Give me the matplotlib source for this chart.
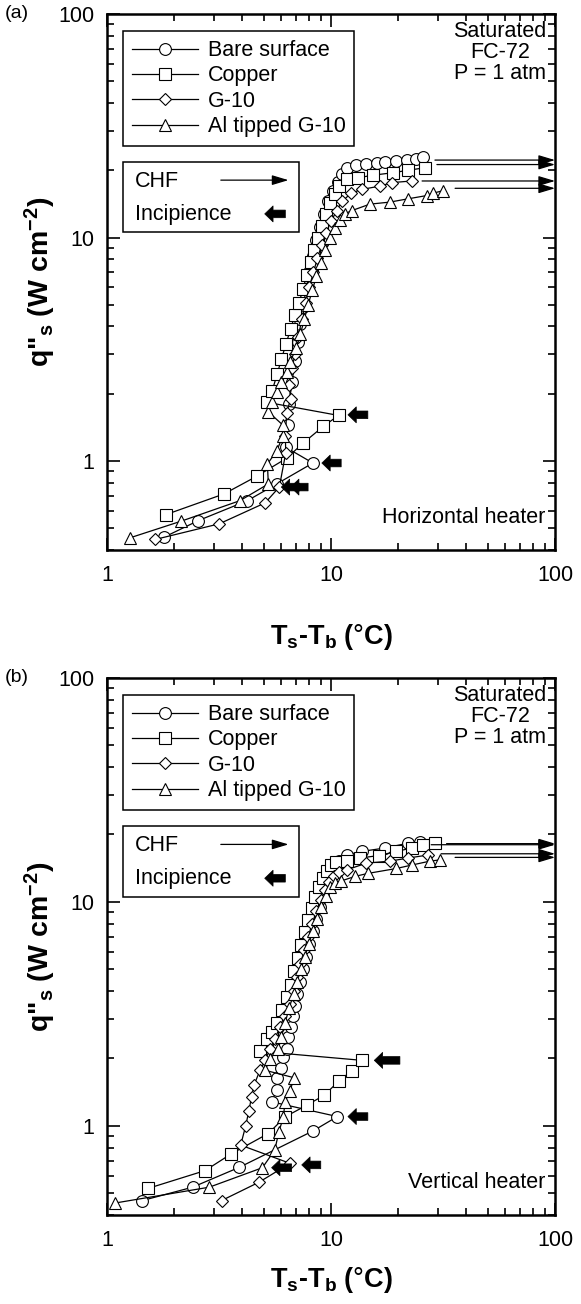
import matplotlib
matplotlib.use('Agg')
import matplotlib.pyplot as plt
from matplotlib.patches import Rectangle
from matplotlib.lines import Line2D
from matplotlib.ticker import FixedLocator, NullFormatter, FixedFormatter

plt.rcParams['font.family'] = ['Liberation Sans', 'DejaVu Sans']
plt.rcParams['mathtext.fontset'] = 'custom'
plt.rcParams['mathtext.rm'] = 'Liberation Sans'
plt.rcParams['mathtext.bf'] = 'Liberation Sans:bold'
plt.rcParams['mathtext.it'] = 'Liberation Sans:italic'

series_labels = ['Bare surface', 'Copper', 'G-10', 'Al tipped G-10']
major_ticks = [1, 10, 100]
major_labels = ['1', '10', '100']

# ---------------- Panel (a): horizontal heater ----------------
a_bare_x = [1.8, 2.56, 4.23, 5.72, 8.3, 6.3, 6.4, 6.5, 6.7, 6.9, 7.1, 7.3, 7.5, 7.75, 8.0, 8.3, 8.6,
            8.9, 9.3, 9.7, 10.2, 10.7, 11.2, 11.75, 12.9, 14.4, 16.0, 17.4, 19.6, 21.8, 23.9, 25.8]
a_bare_y = [0.457, 0.542, 0.665, 0.79, 0.98, 1.15, 1.45, 1.8, 2.26, 2.8, 3.4, 4.1, 4.9, 5.9, 7.0, 8.3, 9.7,
            11.2, 12.8, 14.5, 16.2, 17.8, 19.2, 20.5, 21.2, 21.4, 21.6, 21.7, 21.9, 22.2, 22.5, 22.8]

a_cu_x = [1.83, 3.33, 4.66, 6.34, 7.48, 9.24, 10.8, 5.2, 5.45, 5.75, 6.0, 6.3, 6.6, 6.9, 7.2, 7.5, 7.8,
          8.1, 8.4, 8.75, 9.1, 9.5, 9.9, 10.4, 10.9, 11.75, 13.2, 15.4, 19.0, 22.1, 26.2]
a_cu_y = [0.576, 0.713, 0.855, 1.03, 1.20, 1.43, 1.6, 1.83, 2.05, 2.45, 2.85, 3.35, 3.9, 4.5, 5.1, 5.9, 6.8,
          7.8, 8.8, 10.0, 11.3, 12.7, 14.2, 15.6, 17.0, 18.2, 18.5, 19.0, 19.5, 20.0, 20.5]

a_g10_x = [1.64, 3.17, 5.08, 5.88, 6.28, 6.25, 6.34, 6.6, 6.5, 6.7, 6.9, 7.15, 7.4, 7.7, 8.0, 8.35, 8.7,
           9.1, 9.5, 10.0, 10.6, 11.2, 12.3, 13.7, 16.6, 18.7, 22.9]
a_g10_y = [0.446, 0.524, 0.65, 0.766, 1.09, 1.3, 1.64, 1.9, 2.2, 2.6, 3.0, 3.6, 4.3, 5.1, 6.0, 7.0, 8.1,
           9.3, 10.5, 11.8, 13.2, 14.5, 15.8, 16.4, 17.0, 17.6, 17.9]

a_al_x = [1.27, 2.15, 3.92, 5.25, 5.2, 5.72, 6.09, 6.09, 5.25, 5.44, 5.72, 6.0, 6.34, 6.56, 7.0, 7.3, 7.6,
          7.9, 8.25, 8.6, 9.0, 9.4, 9.9, 10.4, 11.0, 11.6, 12.4, 14.9, 18.3, 22.1, 26.7, 28.6, 31.7]
a_al_y = [0.454, 0.539, 0.665, 0.79, 0.97, 1.11, 1.29, 1.45, 1.66, 1.84, 2.04, 2.26, 2.5, 2.78, 3.2, 3.7, 4.3,
          5.0, 5.8, 6.7, 7.7, 8.8, 9.9, 11.0, 12.0, 12.8, 13.2, 14.1, 14.4, 14.9, 15.4, 15.8, 16.2]

a_chf_start = [29.1, 29.7, 25.5, 35.8]
a_chf_y = [22.2, 21.2, 17.9, 16.6]
a_inc_tip = [9.1, 11.9, 6.6, 6.0]
a_inc_tail = [11.1, 14.6, 7.9, 7.25]
a_inc_y = [0.98, 1.61, 0.765, 0.765]

# ---------------- Panel (b): vertical heater ----------------
b_bare_x = [1.44, 2.41, 3.90, 8.33, 10.67, 5.43, 5.72, 5.72, 5.97, 6.09, 6.34, 6.43, 6.6, 6.75, 6.9, 7.03,
            7.25, 7.5, 7.75, 8.0, 8.3, 8.6, 8.9, 9.25, 9.6, 10.0, 10.4, 10.8, 11.75, 13.7, 17.4, 22.1, 25.0]
b_bare_y = [0.464, 0.532, 0.653, 0.95, 1.10, 1.28, 1.44, 1.64, 1.81, 2.03, 2.2, 2.49, 2.75, 3.1, 3.44, 3.87,
            4.4, 5.0, 5.7, 6.5, 7.4, 8.4, 9.5, 10.7, 11.9, 13.0, 14.1, 15.2, 16.2, 16.8, 17.4, 18.3, 18.6]

b_cu_x = [1.53, 2.74, 3.58, 5.25, 6.23, 7.79, 9.33, 10.8, 12.35, 13.8, 4.82, 5.16, 5.44, 5.72, 6.03, 6.34,
          6.6, 6.85, 7.1, 7.35, 7.65, 7.9, 8.2, 8.5, 8.85, 9.2, 9.6, 10.0, 10.5, 11.75, 13.5, 16.3, 19.6,
          22.9, 25.8, 29.1]
b_cu_y = [0.526, 0.631, 0.749, 0.924, 1.096, 1.236, 1.37, 1.58, 1.76, 1.96, 2.15, 2.44, 2.62, 2.87, 3.29, 3.77,
          4.27, 4.9, 5.6, 6.4, 7.3, 8.3, 9.4, 10.5, 11.7, 12.8, 13.8, 14.6, 15.0, 15.2, 15.7, 16.1, 16.8,
          17.4, 17.9, 18.3]

b_g10_x = [3.25, 4.77, 6.56, 3.95, 4.16, 4.3, 4.42, 4.53, 4.82, 5.08, 5.34, 5.61, 5.9, 6.2, 6.56, 6.8, 7.05,
           7.3, 7.6, 7.9, 8.25, 8.6, 9.0, 9.4, 9.8, 10.3, 10.9, 11.75, 14.4, 18.3, 22.1, 27.2]
b_g10_y = [0.464, 0.56, 0.68, 0.82, 1.0, 1.17, 1.35, 1.52, 1.77, 1.96, 2.2, 2.44, 2.75, 3.1, 3.49, 4.0, 4.6,
           5.3, 6.1, 7.0, 8.0, 9.1, 10.2, 11.3, 12.3, 13.1, 13.6, 13.9, 14.9, 15.2, 15.7, 16.2]

b_al_x = [1.085, 2.86, 4.94, 5.61, 5.85, 6.13, 6.23, 6.56, 6.84, 5.08, 5.34, 5.82, 6.0, 6.23, 6.5, 6.8, 7.05,
          7.35, 7.65, 7.95, 8.3, 8.65, 9.05, 9.45, 9.9, 10.4, 11.1, 12.8, 14.6, 19.6, 22.9, 27.6, 30.6]
b_al_y = [0.452, 0.532, 0.65, 0.78, 0.94, 1.096, 1.28, 1.43, 1.64, 1.77, 1.99, 2.2, 2.49, 2.87, 3.35, 3.87, 4.4,
          5.0, 5.7, 6.5, 7.4, 8.4, 9.5, 10.6, 11.6, 12.2, 12.4, 13.0, 13.4, 14.1, 14.6, 15.2, 15.4]

b_chf_start = [28.0, 32.8, 31.0, 35.8]
b_chf_y = [18.0, 18.2, 16.4, 15.8]
b_inc_tip = [11.9, 15.6, 7.4, 5.43]
b_inc_tail = [14.6, 20.3, 9.0, 6.67]
b_inc_y = [1.10, 1.96, 0.669, 0.65]

markers = ['o', 's', 'D', '^']
msizes = [8.5, 8.5, 6.2, 8.5]

fig = plt.figure(figsize=(5.81, 13.04), dpi=100)
ax_a = fig.add_axes([0.1842, 0.5782, 0.7711, 0.4111])
ax_b = fig.add_axes([0.1842, 0.0683, 0.7711, 0.4118])

panels = [
    (ax_a, [(a_bare_x, a_bare_y), (a_cu_x, a_cu_y), (a_g10_x, a_g10_y), (a_al_x, a_al_y)],
     a_chf_start, a_chf_y, a_inc_tip, a_inc_tail, a_inc_y, 'Horizontal heater', '(a)', -0.162),
    (ax_b, [(b_bare_x, b_bare_y), (b_cu_x, b_cu_y), (b_g10_x, b_g10_y), (b_al_x, b_al_y)],
     b_chf_start, b_chf_y, b_inc_tip, b_inc_tail, b_inc_y, 'Vertical heater', '(b)', -0.121),
]

TXT = 15.5

for ax, data, chf_s, chf_y, inc_tip, inc_tail, inc_y, heater, tag, xlab_y in panels:
    ax.set_xscale('log')
    ax.set_yscale('log')
    ax.set_xlim(1, 100)
    ax.set_ylim(0.4, 100)
    for (xs, ys), m, ms in zip(data, markers, msizes):
        ax.plot(xs, ys, color='black', lw=0.9, marker=m, ms=ms, mfc='white', mec='black', mew=0.8,
                clip_on=False, zorder=3)
    for xs, y in zip(chf_s, chf_y):
        ax.annotate('', xy=(100, y), xytext=(xs, y), xycoords='data', textcoords='data',
                    arrowprops=dict(arrowstyle='-|>,head_length=0.5,head_width=0.15', lw=0.9,
                                    color='black', mutation_scale=20, shrinkA=0, shrinkB=0),
                    annotation_clip=False, zorder=4)
    for xt, xl, y in zip(inc_tip, inc_tail, inc_y):
        ax.annotate('', xy=(xt, y), xytext=(xl, y), xycoords='data', textcoords='data',
                    arrowprops=dict(arrowstyle='simple,head_length=0.6,head_width=1.15,tail_width=0.55',
                                    fc='black', ec='black', lw=0.5, mutation_scale=10, shrinkA=0, shrinkB=0),
                    zorder=5)

    # axes styling
    for sp in ax.spines.values():
        sp.set_linewidth(1.8)
    ax.xaxis.set_major_locator(FixedLocator(major_ticks))
    ax.xaxis.set_major_formatter(FixedFormatter(major_labels))
    ax.yaxis.set_major_locator(FixedLocator(major_ticks))
    ax.yaxis.set_major_formatter(FixedFormatter(major_labels))
    ax.xaxis.set_minor_formatter(NullFormatter())
    ax.yaxis.set_minor_formatter(NullFormatter())
    ax.tick_params(which='both', direction='in', top=True, right=True, width=1.2)
    ax.tick_params(which='major', length=9, labelsize=15.5)
    ax.tick_params(which='minor', length=5)
    ax.tick_params(axis='x', which='major', pad=11)
    ax.tick_params(axis='y', which='major', pad=9)

    ax.set_ylabel(r'q"$_\mathbf{s}$ (W cm$^\mathbf{-2}$)', fontsize=20.5, fontweight='bold')
    ax.set_xlabel(r'T$_\mathbf{s}$-T$_\mathbf{b}$ ($\degree$C)', fontsize=19.5, fontweight='bold',
                  va='center')
    ax.yaxis.set_label_coords(-0.11, 0.5)
    ax.xaxis.set_label_coords(0.5, xlab_y)

    # legend of series
    handles = [Line2D([0], [0], color='black', lw=0.9, marker=m, ms=ms, mfc='white', mec='black', mew=0.8)
               for m, ms in zip(markers, msizes)]
    leg = ax.legend(handles, series_labels, loc='upper left', bbox_to_anchor=(0.036, 0.968),
                    fontsize=TXT, frameon=True, fancybox=False, edgecolor='black', framealpha=1,
                    handlelength=3.05, handletextpad=0.45, labelspacing=0.2, borderpad=0.42,
                    borderaxespad=0)
    leg.get_frame().set_linewidth(1.1)

    # CHF / Incipience box
    ax.add_patch(Rectangle((0.036, 0.593), 0.392, 0.131, transform=ax.transAxes, fill=False,
                           ec='black', lw=1.1, zorder=6))
    ax.text(0.062, 0.688, 'CHF', transform=ax.transAxes, fontsize=TXT, va='center', ha='left')
    ax.text(0.062, 0.626, 'Incipience', transform=ax.transAxes, fontsize=TXT, va='center', ha='left')
    ax.annotate('', xy=(0.405, 0.69), xytext=(0.254, 0.69), xycoords='axes fraction',
                arrowprops=dict(arrowstyle='-|>,head_length=0.5,head_width=0.15', lw=0.9, color='black',
                                mutation_scale=20, shrinkA=0, shrinkB=0))
    ax.annotate('', xy=(0.352, 0.627), xytext=(0.398, 0.627), xycoords='axes fraction',
                arrowprops=dict(arrowstyle='simple,head_length=0.6,head_width=1.15,tail_width=0.55',
                                fc='black', ec='black', lw=0.5, mutation_scale=10, shrinkA=0, shrinkB=0))

    ax.text(0.877, 0.987, 'Saturated\nFC-72\nP = 1 atm', transform=ax.transAxes, fontsize=TXT,
            ha='center', va='top', linespacing=1.0)
    ax.text(0.978, 0.06, heater, transform=ax.transAxes, fontsize=TXT, ha='right', va='center')

    pos = ax.get_position()
    fig.text(0.008, pos.y1, tag, fontsize=14, ha='left', va='center')

fig.savefig('out.png', dpi=100)
